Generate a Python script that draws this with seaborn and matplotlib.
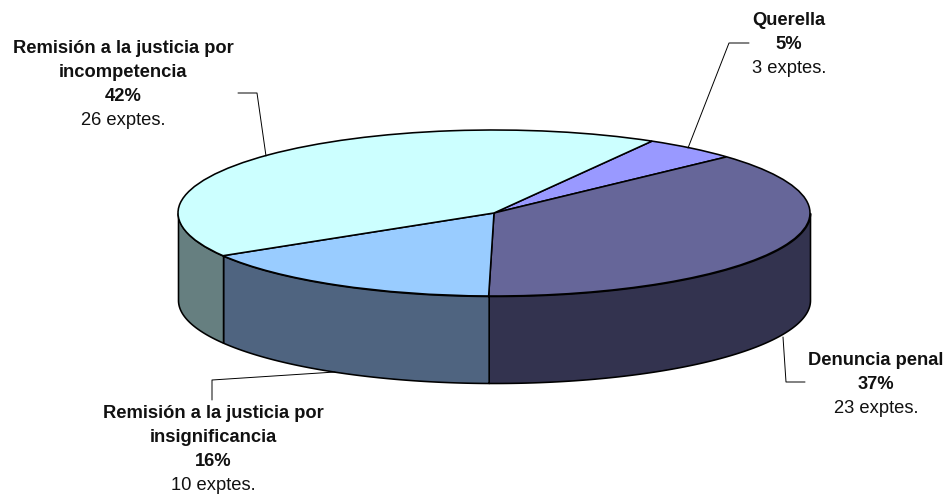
import numpy as np
import seaborn as sns
import matplotlib
matplotlib.use('Agg')
import matplotlib.pyplot as plt
from matplotlib.lines import Line2D

labels = ['Querella', 'Denuncia penal', 'Remisión a la justicia por\ninsignificancia',
          'Remisión a la justicia por\nincompetencia']
counts = [3, 23, 10, 26]
percents = ['5%', '37%', '16%', '42%']
top_colors = ['#9999ff', '#666699', '#99ccff', '#ccffff']
side_colors = ['#4d4d80', '#33334f', '#4f6480', '#667f80']

W, H = 947, 495
CX, CY, RX, RY, DEPTH = 494, 213, 316, 83, 87

# label centre x, first line baseline y (px from top), leader line points (px)
label_pos = [(789, 25), (876, 365), (213, 418), (123, 53)]
leaders = [
    [(688, 148), (729, 43), (749, 43)],
    [(783, 337), (786, 382), (805, 382)],
    [(335, 372), (212, 380), (212, 400)],
    [(266, 156), (257, 93), (238, 93)],
]

sns.set_theme(style='white')
plt.rcParams['font.family'] = ['Liberation Sans', 'DejaVu Sans']

fig = plt.figure(figsize=(W / 100, H / 100), dpi=100, facecolor='white')
ax = fig.add_axes([0, 0, 1, 1])

# side walls first, the pie goes over them
start = 60.0
edges = start - np.cumsum([0] + counts) / sum(counts) * 360
for i in range(len(counts)):
    t = np.radians(np.clip(np.linspace(edges[i + 1], edges[i], 300), -180, 0))
    ax.fill_between(np.cos(t), np.sin(t), np.sin(t) - DEPTH / RY,
                    facecolor=side_colors[i], edgecolor='black', linewidth=1.15, zorder=1)

wedges, _ = ax.pie(counts, colors=sns.color_palette(top_colors), startangle=start, counterclock=False,
                   radius=1, wedgeprops={'edgecolor': 'black', 'linewidth': 1.15})
for w in wedges:
    w.set_zorder(2)

# the pie forces equal aspect, squash it to the tilted ellipse
ax.set_aspect('auto')
ax.set_xlim(-CX / RX, (W - CX) / RX)
ax.set_ylim(-(H - CY) / RY, CY / RY)
ax.axis('off')

for pts in leaders:
    xs = [p[0] / W for p in pts]
    ys = [1 - p[1] / H for p in pts]
    fig.add_artist(Line2D(xs, ys, color='black', lw=0.7))

for lab, pct, n, (x, y) in zip(labels, percents, counts, label_pos):
    rows = [(r, 'bold') for r in lab.split('\n')] + [(pct, 'bold'), (f'{n} exptes.', 'normal')]
    for k, (txt, weight) in enumerate(rows):
        fig.text(x / W, 1 - (y + k * 24) / H, txt, ha='center', va='baseline',
                 fontsize=13.2, fontweight=weight, color='#111111')

fig.savefig('out.png', dpi=100)
